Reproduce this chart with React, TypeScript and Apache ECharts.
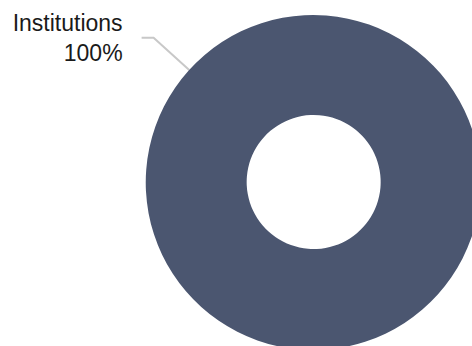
import React, { useEffect, useRef } from "react";
import * as echarts from "echarts";

const categories = ["Institutions"];
const values = [100];

export default function App() {
  const ref = useRef<HTMLDivElement>(null);
  useEffect(() => {
    if (!ref.current) return;
    const chart = echarts.init(ref.current, undefined, { renderer: "svg" });
    chart.setOption({
      animation: false,
      backgroundColor: "#ffffff",
      series: [
        {
          type: "pie",
          center: [313.5, 182.2],
          radius: [67, 167.5],
          startAngle: 317.9,
          clockwise: true,
          avoidLabelOverlap: false,
          data: categories.map((c, i) => ({ name: c, value: values[i] })),
          itemStyle: { color: "#4b5670", borderWidth: 0 },
          label: {
            show: true,
            formatter: "{b}\n{d}%",
            fontFamily: "Liberation Sans, Arial, sans-serif",
            fontSize: 23,
            lineHeight: 30,
            padding: [7, 0, 0, 0],
            color: "#1a1a1a",
            distanceToLabelLine: 19,
            align: "right",
          },
          labelLine: {
            show: true,
            length: 48,
            length2: 12,
            lineStyle: { color: "#c8c8c8", width: 2 },
          },
          emphasis: { disabled: true },
        },
      ],
    });
    return () => chart.dispose();
  }, []);
  return (
    <div
      ref={ref}
      style={{ position: "fixed", left: 0, top: 0, width: 472, height: 346 }}
    />
  );
}
